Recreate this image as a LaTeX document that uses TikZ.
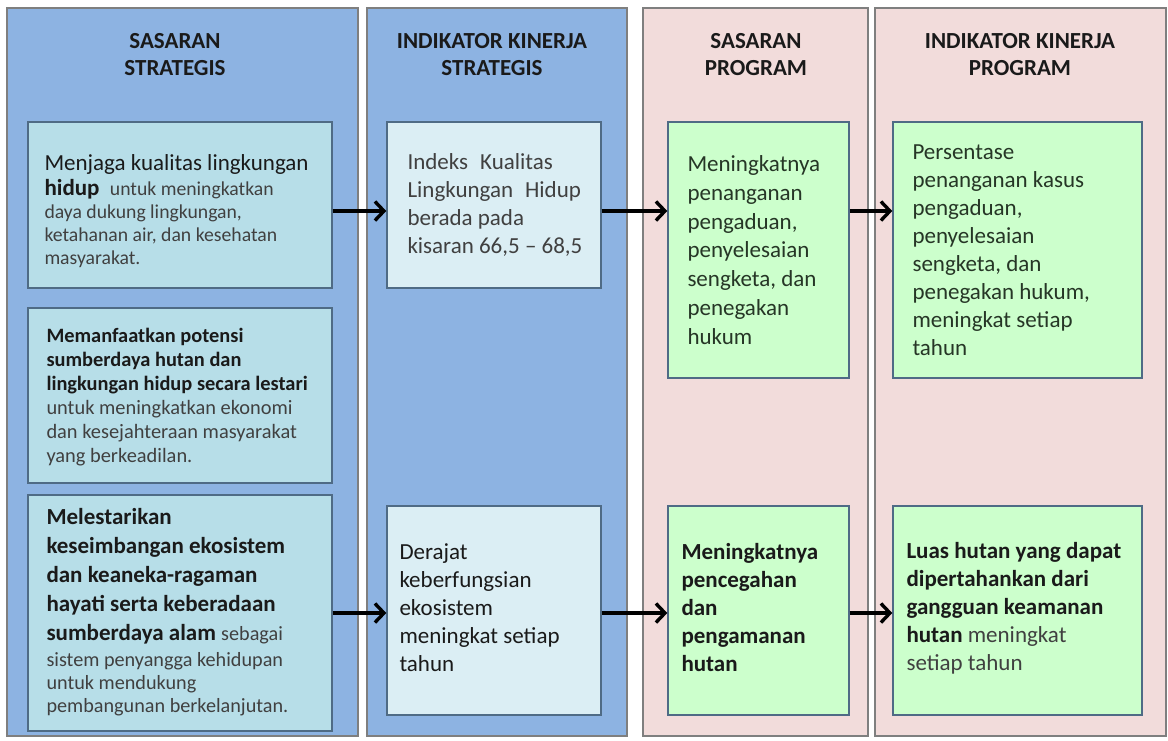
\documentclass[tikz,border=0pt]{standalone}
\usepackage{fontspec}
\setmainfont{Carlito}
\usetikzlibrary{arrows.meta}
\definecolor{colblue}{HTML}{8DB3E2}
\definecolor{colpink}{HTML}{F2DCDB}
\definecolor{boxaqua}{HTML}{B7DEE8}
\definecolor{boxpale}{HTML}{DBEEF4}
\definecolor{boxgreen}{HTML}{CCFFCC}
\definecolor{colline}{HTML}{7F7F7F}
\definecolor{boxline}{HTML}{4F6B85}
\definecolor{dk}{HTML}{1A1A1A}
\definecolor{gy}{HTML}{404040}
\definecolor{gn}{HTML}{263626}
\newcommand{\smtxt}[1]{{\fontsize{19.7}{23}\selectfont #1}}
\newcommand{\smtxtb}[1]{{\fontsize{20.2}{23}\selectfont #1}}
\begin{document}
\begin{tikzpicture}[x=1pt,y=-1pt,
  colrect/.style={draw=colline, line width=1.2pt},
  tbox/.style={draw=boxline, line width=1.4pt, inner sep=0pt},
  hdr/.style={anchor=north, align=center, inner sep=0pt, text=dk,
    font=\bfseries\fontsize{23}{27}\selectfont},
  txt/.style={anchor=west, align=left, inner sep=0pt},
  arr/.style={line width=3.4pt, -{Straight Barb[length=9pt,width=19pt]}}
]
\useasboundingbox[fill=white] (0,0) rectangle (1168,740);
% columns
\filldraw[colrect, fill=colblue] (7,8) rectangle (358,736);
\filldraw[colrect, fill=colblue] (367,8) rectangle (627,736);
\filldraw[colrect, fill=colpink] (643,8) rectangle (868,736);
\filldraw[colrect, fill=colpink] (875,8) rectangle (1166,736);
% headers
\node[hdr] (h1) at (175,33) {SASARAN\\STRATEGIS};
\node[hdr] (h2) at (492,33) {INDIKATOR KINERJA\\STRATEGIS};
\node[hdr] (h3) at (756,33) {SASARAN\\PROGRAM};
\node[hdr] (h4) at (1020,33) {INDIKATOR KINERJA\\PROGRAM};
% boxes
\node[tbox, fill=boxaqua, minimum width=304pt, minimum height=166pt] (s1) at (180,205) {};
\node[tbox, fill=boxaqua, minimum width=304pt, minimum height=175pt] (s2) at (180,395.5) {};
\node[tbox, fill=boxaqua, minimum width=304pt, minimum height=236pt] (s3) at (180,613) {};
\node[tbox, fill=boxpale, minimum width=214pt, minimum height=166pt] (i1) at (494,205) {};
\node[tbox, fill=boxpale, minimum width=214pt, minimum height=209pt] (i2) at (494,610.5) {};
\node[tbox, fill=boxgreen, minimum width=181pt, minimum height=256pt] (p1) at (758.5,250) {};
\node[tbox, fill=boxgreen, minimum width=181pt, minimum height=209pt] (p2) at (758.5,610.5) {};
\node[tbox, fill=boxgreen, minimum width=249pt, minimum height=256pt] (k1) at (1017.5,250) {};
\node[tbox, fill=boxgreen, minimum width=249pt, minimum height=209pt] (k2) at (1017.5,610.5) {};
% texts
\node[txt, font=\fontsize{23}{27}\selectfont] (s1t) at ([xshift=17pt,yshift=-6pt]s1.west) {%
  \color{dk}Menjaga kualitas lingkungan\\[-2pt]
  \color{dk}\textbf{hidup}\ \ \color{gy}\smtxt{untuk meningkatkan}\\[-4pt]
  \color{gy}\smtxt{daya dukung lingkungan,}\\[-4pt]
  \color{gy}\smtxt{ketahanan air, dan kesehatan}\\[-4pt]
  \color{gy}\smtxt{masyarakat.}};
\node[txt, font=\fontsize{20.4}{24}\selectfont] (s2t) at ([xshift=19pt,yshift=-2pt]s2.west) {%
  \color{dk}\textbf{Memanfaatkan potensi}\\
  \color{dk}\textbf{sumberdaya hutan dan}\\
  \color{dk}\textbf{lingkungan hidup secara lestari}\\
  \color{gy}untuk meningkatkan ekonomi\\
  \color{gy}dan kesejahteraan masyarakat\\
  \color{gy}yang berkeadilan.};
\node[txt, font=\fontsize{23}{29}\selectfont] (s3t) at ([xshift=19pt,yshift=1pt]s3.west) {%
  \color{dk}\textbf{Melestarikan}\\
  \color{dk}\textbf{keseimbangan ekosistem}\\
  \color{dk}\textbf{dan keaneka-ragaman}\\
  \color{dk}\textbf{hayati serta keberadaan}\\
  \color{dk}\textbf{sumberdaya alam} \color{gy}\smtxtb{sebagai}\\[-3pt]
  \color{gy}\smtxtb{sistem penyangga kehidupan}\\[-6pt]
  \color{gy}\smtxtb{untuk mendukung}\\[-6pt]
  \color{gy}\smtxtb{pembangunan berkelanjutan.}};
\node[txt, font=\fontsize{23}{28}\selectfont, text=gy] (i1t) at ([xshift=21pt]i1.west) {%
  Indeks\hspace{12pt}Kualitas\\
  Lingkungan\hspace{12pt}Hidup\\
  berada pada\\
  kisaran 66,5 -- 68,5};
\node[txt, font=\fontsize{23}{28}\selectfont, text=dk] (i2t) at ([xshift=13pt,yshift=3pt]i2.west) {%
  Derajat\\
  keberfungsian\\
  ekosistem\\
  meningkat setiap\\
  tahun};
\node[txt, font=\fontsize{23}{28.7}\selectfont, text=gn] (p1t) at ([xshift=20pt]p1.west) {%
  Meningkatnya\\
  penanganan\\
  pengaduan,\\
  penyelesaian\\
  sengketa, dan\\
  penegakan\\
  hukum};
\node[txt, font=\fontsize{23}{28}\selectfont, text=gn] (k1t) at ([xshift=20pt]k1.west) {%
  Persentase\\
  penanganan kasus\\
  pengaduan,\\
  penyelesaian\\
  sengketa, dan\\
  penegakan hukum,\\
  meningkat setiap\\
  tahun};
\node[txt, font=\bfseries\fontsize{23}{28}\selectfont, text=dk] (p2t) at ([xshift=14pt,yshift=3pt]p2.west) {%
  Meningkatnya\\
  pencegahan\\
  dan\\
  pengamanan\\
  hutan};
\node[txt, font=\fontsize{23}{28}\selectfont] (k2t) at ([xshift=14pt,yshift=2pt]k2.west) {%
  \color{dk}\textbf{Luas hutan yang dapat}\\
  \color{dk}\textbf{dipertahankan dari}\\
  \color{dk}\textbf{gangguan keamanan}\\
  \color{dk}\textbf{hutan} \color{gy}meningkat\\
  \color{gy}setiap tahun};
% arrows
\coordinate (r1) at (0,211);
\coordinate (r2) at (0,613);
\draw[arr] (s1.east |- r1) -- (i1.west |- r1);
\draw[arr] (i1.east |- r1) -- (p1.west |- r1);
\draw[arr] (p1.east |- r1) -- (k1.west |- r1);
\draw[arr] (s3.east |- r2) -- (i2.west |- r2);
\draw[arr] (i2.east |- r2) -- (p2.west |- r2);
\draw[arr] (p2.east |- r2) -- (k2.west |- r2);
\end{tikzpicture}
\end{document}
